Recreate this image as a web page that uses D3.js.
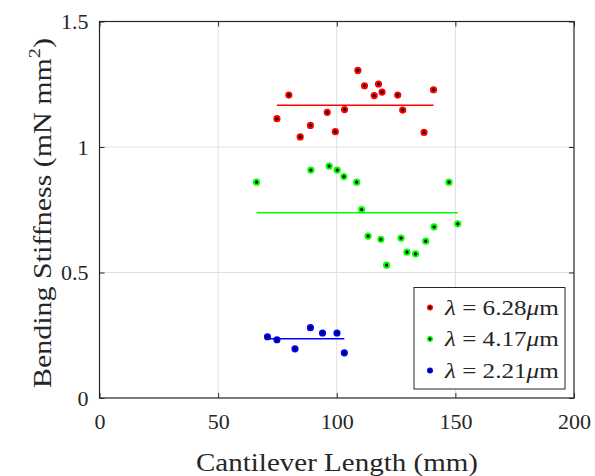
<!DOCTYPE html>
<html>
<head>
<meta charset="utf-8">
<script src="https://cdn.jsdelivr.net/npm/d3@7"></script>
<style>
  body { margin: 0; background: #fff; }
  svg text { font-family: "Liberation Serif", "DejaVu Serif", serif; fill: #262626; }
</style>
</head>
<body>
<script>
// cantilever length (mm) and bending stiffness (mN mm^2) per wavelength
const lenRed = [74.8, 79.8, 84.6, 88.9, 96.0, 99.4, 103.3, 108.9, 111.7, 115.8, 117.6, 119.1, 125.7, 127.8, 136.8, 140.8];
const stiffRed = [1.113, 1.207, 1.040, 1.086, 1.138, 1.061, 1.149, 1.305, 1.244, 1.205, 1.251, 1.219, 1.207, 1.147, 1.058, 1.228];
const lenGreen = [66.2, 89.1, 96.8, 100.2, 103.0, 108.4, 110.5, 113.2, 118.6, 121.0, 127.1, 129.6, 133.2, 137.5, 141.0, 147.3, 151.0];
const stiffGreen = [0.860, 0.908, 0.924, 0.908, 0.882, 0.860, 0.751, 0.645, 0.632, 0.529, 0.637, 0.581, 0.574, 0.625, 0.682, 0.860, 0.694];
const lenBlue = [70.8, 74.8, 82.4, 88.9, 94.0, 100.1, 103.2];
const stiffBlue = [0.244, 0.232, 0.196, 0.280, 0.259, 0.259, 0.180];
const legendLabels = ["6.28", "4.17", "2.21"];
const xTicks = [0, 50, 100, 150, 200];
const yTicks = [0, 0.5, 1, 1.5];

const series = [
  { xs: lenRed, ys: stiffRed, color: "#ff0000", label: legendLabels[0] },
  { xs: lenGreen, ys: stiffGreen, color: "#00ff00", label: legendLabels[1] },
  { xs: lenBlue, ys: stiffBlue, color: "#0000ff", label: legendLabels[2] }
];

const W = 595, H = 476;
const svg = d3.select("body").append("svg").attr("width", W).attr("height", H);

const x = d3.scaleLinear().domain([0, 200]).range([99.5, 574]);
const y = d3.scaleLinear().domain([0, 1.5]).range([398, 21.5]);
const [x0, x1] = x.range(), [y0, y1] = y.range();
const axisColor = "#262626";

// stretch a text horizontally (latex fonts run wider than Liberation)
function stretch(t, tx, ty, rot, target) {
  const w = t.node().getBBox().width;
  t.attr("transform", `translate(${tx},${ty}) rotate(${rot}) scale(${target / w},1)`);
}

// grid
svg.append("g").selectAll("line").data(xTicks.slice(1, -1)).join("line")
  .attr("x1", d => x(d)).attr("x2", d => x(d)).attr("y1", y0).attr("y2", y1)
  .attr("stroke", "#dfdfdf").attr("stroke-width", 1);
svg.append("g").selectAll("line").data(yTicks.slice(1, -1)).join("line")
  .attr("y1", d => y(d)).attr("y2", d => y(d)).attr("x1", x0).attr("x2", x1)
  .attr("stroke", "#dfdfdf").attr("stroke-width", 1);

function styleAxis(g) {
  g.select(".domain").remove();
  g.selectAll("line").attr("stroke", axisColor);
  g.selectAll("text").attr("font-size", 22).attr("fill", axisColor)
    .style("font-family", '"Liberation Serif", serif');
}

svg.append("g").attr("transform", `translate(0,${y0})`)
  .call(d3.axisBottom(x).tickValues(xTicks).tickSizeInner(-5).tickSizeOuter(0).tickPadding(15))
  .call(styleAxis);
svg.append("g").attr("transform", `translate(0,${y1})`)
  .call(d3.axisTop(x).tickValues(xTicks).tickSizeInner(-5).tickSizeOuter(0).tickFormat(""))
  .call(styleAxis);
svg.append("g").attr("transform", `translate(${x0},0)`)
  .call(d3.axisLeft(y).tickValues(yTicks).tickSizeInner(-5).tickSizeOuter(0).tickPadding(11).tickFormat(d3.format("~g")))
  .call(styleAxis);
svg.append("g").attr("transform", `translate(${x1},0)`)
  .call(d3.axisRight(y).tickValues(yTicks).tickSizeInner(-5).tickSizeOuter(0).tickFormat(""))
  .call(styleAxis);

// box
svg.append("rect").attr("x", x0).attr("y", y1).attr("width", x1 - x0).attr("height", y0 - y1)
  .attr("fill", "none").attr("stroke", axisColor).attr("stroke-width", 1.2);

// mean lines and points
series.forEach(s => {
  const m = d3.mean(s.ys);
  svg.append("line")
    .attr("x1", x(d3.min(s.xs))).attr("x2", x(d3.max(s.xs)))
    .attr("y1", y(m)).attr("y2", y(m))
    .attr("stroke", s.color).attr("stroke-width", 1.5);
  svg.append("g").selectAll("circle").data(s.xs.map((v, i) => [v, s.ys[i]])).join("circle")
    .attr("cx", d => x(d[0])).attr("cy", d => y(d[1])).attr("r", 2.6)
    .attr("fill", "#000").attr("stroke", s.color).attr("stroke-width", 2);
});

// axis labels
const xl = svg.append("text").attr("text-anchor", "middle").attr("font-size", 25)
  .text("Cantilever Length (mm)");
stretch(xl, 337, 471, 0, 282);
const yl = svg.append("text").attr("text-anchor", "middle").attr("font-size", 25);
yl.append("tspan").text("Bending Stiffness (mN mm");
yl.append("tspan").attr("font-size", 17).attr("dy", -11).text("2");
yl.append("tspan").attr("dy", 11).text(")");
stretch(yl, 51, 213, -90, 350);

// legend
const lg = svg.append("g");
lg.append("rect").attr("x", 414).attr("y", 287.5).attr("width", 151).attr("height", 101.5)
  .attr("fill", "#fff").attr("stroke", axisColor).attr("stroke-width", 1);
series.forEach((s, i) => {
  const cy = 307.5 + i * 31.5;
  lg.append("circle").attr("cx", 430).attr("cy", cy).attr("r", 2.2)
    .attr("fill", "#000").attr("stroke", s.color).attr("stroke-width", 1.6);
  const t = lg.append("text").attr("font-size", 21);
  t.append("tspan").attr("font-style", "italic").text("λ");
  t.append("tspan").text(" = " + s.label);
  t.append("tspan").attr("font-style", "italic").text("μ");
  t.append("tspan").text("m");
  stretch(t, 445, cy + 7, 0, 115);
});
</script>
</body>
</html>
